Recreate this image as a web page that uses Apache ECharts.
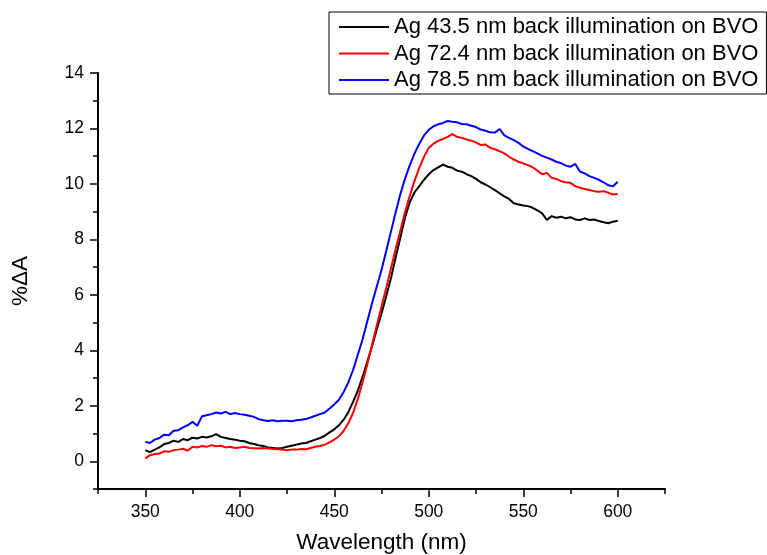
<!DOCTYPE html>
<html>
<head>
<meta charset="utf-8">
<script src="https://cdn.jsdelivr.net/npm/echarts@6/dist/echarts.min.js"></script>
<style>
html,body{margin:0;padding:0;background:#fff;}
#c{width:767px;height:555px;}
</style>
</head>
<body>
<div id="c"></div>
<script>
// Wavelength grid: 350 to 600 nm in 2.5 nm steps
const wlStart = 350, wlStep = 2.5;
const seriesNames = [
  'Ag 43.5 nm back illumination on BVO',
  'Ag 72.4 nm back illumination on BVO',
  'Ag 78.5 nm back illumination on BVO'
];
const ag435 = [0.40,0.33,0.42,0.50,0.62,0.66,0.74,0.70,0.80,0.76,0.85,0.82,0.88,0.86,0.90,0.98,0.88,0.84,0.80,0.78,
0.74,0.72,0.66,0.62,0.58,0.55,0.50,0.48,0.46,0.48,0.52,0.56,0.60,0.64,0.66,0.72,0.78,0.84,0.92,1.04,
1.15,1.30,1.50,1.78,2.15,2.55,3.05,3.60,4.15,4.75,5.33,5.95,6.60,7.35,8.08,8.80,9.35,9.70,9.92,10.15,
10.35,10.50,10.60,10.70,10.62,10.58,10.48,10.44,10.35,10.28,10.18,10.06,9.98,9.88,9.78,9.66,9.55,9.46,9.30,9.26,
9.22,9.20,9.14,9.05,8.94,8.70,8.84,8.78,8.82,8.76,8.80,8.72,8.70,8.76,8.70,8.72,8.66,8.62,8.58,8.64,8.67];
const ag724 = [0.10,0.22,0.26,0.28,0.36,0.34,0.40,0.42,0.45,0.38,0.52,0.50,0.55,0.52,0.58,0.54,0.56,0.50,0.52,0.48,
0.50,0.52,0.48,0.47,0.46,0.48,0.46,0.44,0.43,0.42,0.40,0.42,0.42,0.44,0.43,0.48,0.52,0.55,0.60,0.68,
0.78,0.90,1.10,1.38,1.75,2.25,2.85,3.50,4.20,4.90,5.58,6.25,6.95,7.65,8.32,9.00,9.58,10.12,10.58,10.98,
11.30,11.45,11.55,11.62,11.70,11.80,11.70,11.66,11.60,11.56,11.50,11.40,11.42,11.30,11.25,11.18,11.10,10.98,10.88,10.80,
10.74,10.68,10.60,10.48,10.35,10.40,10.22,10.18,10.10,10.06,10.04,9.92,9.86,9.82,9.78,9.74,9.72,9.74,9.68,9.62,9.64];
const ag785 = [0.70,0.66,0.78,0.84,0.96,0.94,1.10,1.12,1.22,1.30,1.42,1.28,1.62,1.66,1.70,1.76,1.72,1.78,1.70,1.74,
1.70,1.68,1.64,1.60,1.52,1.48,1.45,1.48,1.44,1.46,1.46,1.44,1.48,1.50,1.52,1.58,1.64,1.70,1.76,1.90,
2.05,2.22,2.50,2.85,3.30,3.85,4.40,5.05,5.70,6.30,6.90,7.58,8.28,8.98,9.64,10.20,10.68,11.10,11.45,11.75,
11.95,12.08,12.15,12.20,12.27,12.24,12.22,12.16,12.15,12.10,12.05,11.96,11.92,11.86,11.85,11.98,11.75,11.66,11.58,11.48,
11.35,11.26,11.18,11.10,11.01,10.95,10.88,10.80,10.75,10.66,10.62,10.72,10.45,10.38,10.28,10.22,10.15,10.06,9.95,9.92,10.08];
const xMajorTicks = [350,400,450,500,550,600];
const xMinorTicks = [325,375,425,475,525,575,625];
const yMajorTicks = [0,2,4,6,8,10,12,14];
const yMinorTicks = [-1,1,3,5,7,9,11,13];
const colors = ['#000000','#ff0000','#0000ff'];

function pairs(arr){ return arr.map((v,i)=>[wlStart + i*wlStep, v]); }
const allSeries = [ag435, ag724, ag785];

const FONT = '"Liberation Sans", Arial, sans-serif';
const chart = echarts.init(document.getElementById('c'), null, {renderer:'canvas'});
chart.setOption({
  backgroundColor:'#ffffff',
  animation:false,
  grid:{left:98, right:102, top:73, bottom:66, containLabel:false, outerBoundsMode:'none'},
  legend:{
    orient:'vertical', left:329, top:12,
    data:seriesNames,
    backgroundColor:'#fff',
    borderColor:'#000', borderWidth:1,
    padding:[4,8,3,10],
    itemWidth:50, itemHeight:14, itemGap:4.5,
    textStyle:{fontFamily:FONT, fontSize:22, lineHeight:22, color:'#000'},
    icon:'path://M0,0 L50,0 L50,2 L0,2 Z'
  },
  xAxis:[{
    type:'value', min:325, max:625, position:'bottom',
    name:'Wavelength (nm)', nameLocation:'middle', nameGap:42,
    nameTextStyle:{fontFamily:FONT, fontSize:22.5, color:'#000'},
    axisLine:{show:true, onZero:false, lineStyle:{color:'#000', width:2}},
    axisTick:{show:true, inside:false, length:8, customValues:xMajorTicks, lineStyle:{color:'#000', width:1.5}},
    axisLabel:{show:true, customValues:xMajorTicks, margin:14, fontFamily:FONT, fontSize:17.5, color:'#000'},
    splitLine:{show:false}
  },{
    type:'value', min:325, max:625, position:'bottom', offset:0,
    axisLine:{show:false, onZero:false},
    axisTick:{show:true, inside:false, length:5, customValues:xMinorTicks, lineStyle:{color:'#000', width:1.5}},
    axisLabel:{show:false},
    splitLine:{show:false}
  }],
  yAxis:[{
    type:'value', min:-1, max:14, position:'left',
    name:'%\u0394A', nameLocation:'middle', nameGap:66, nameRotate:90,
    nameTextStyle:{fontFamily:FONT, fontSize:22.5, color:'#000'},
    axisLine:{show:true, onZero:false, lineStyle:{color:'#000', width:2}},
    axisTick:{show:true, inside:false, length:8, customValues:yMajorTicks, lineStyle:{color:'#000', width:1.5}},
    axisLabel:{show:true, customValues:yMajorTicks, margin:14, fontFamily:FONT, fontSize:17.5, color:'#000'},
    splitLine:{show:false}
  },{
    type:'value', min:-1, max:14, position:'left', offset:0,
    axisLine:{show:false, onZero:false},
    axisTick:{show:true, inside:false, length:5, customValues:yMinorTicks, lineStyle:{color:'#000', width:1.5}},
    axisLabel:{show:false},
    splitLine:{show:false}
  }],
  series: allSeries.map((arr,i)=>({
    name:seriesNames[i], type:'line', xAxisIndex:0, yAxisIndex:0,
    data:pairs(arr), showSymbol:false, symbol:'none',
    lineStyle:{color:colors[i], width:2}, itemStyle:{color:colors[i]}
  }))
});
</script>
</body>
</html>
